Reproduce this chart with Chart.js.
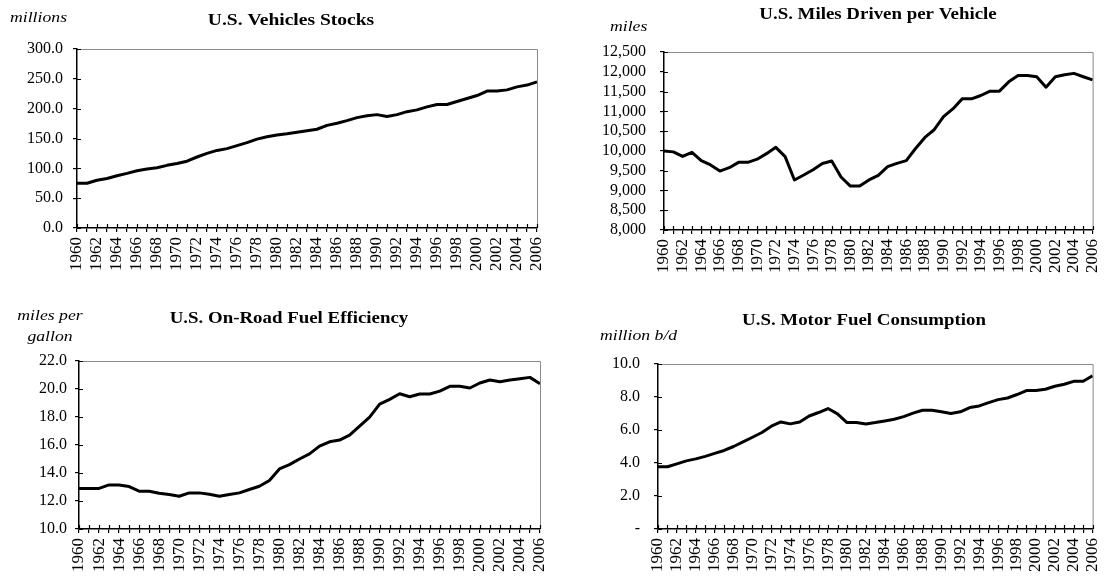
<!DOCTYPE html>
<html>
<head>
<meta charset="utf-8">
<script src="https://cdn.jsdelivr.net/npm/chart.js"></script>
<style>
body { margin: 0; background: #fff; }
#lienzo { position: relative; width: 1118px; height: 579px; }
#lienzo canvas { position: absolute; left: 0; top: 0; }
</style>
</head>
<body>
<div id="lienzo">
  <canvas id="g1" width="1118" height="579"></canvas>
  <canvas id="g2" width="1118" height="579"></canvas>
  <canvas id="g3" width="1118" height="579"></canvas>
  <canvas id="g4" width="1118" height="579"></canvas>
</div>
<script>
const years = ['1960','1961','1962','1963','1964','1965','1966','1967','1968','1969',
  '1970','1971','1972','1973','1974','1975','1976','1977','1978','1979',
  '1980','1981','1982','1983','1984','1985','1986','1987','1988','1989',
  '1990','1991','1992','1993','1994','1995','1996','1997','1998','1999',
  '2000','2001','2002','2003','2004','2005','2006']

// millions of vehicles
const stocks = [75, 75, 80, 83, 87.5, 91.5, 96, 99, 101, 105,
  108, 112, 119, 125, 130, 133, 138, 143, 149, 153,
  156, 158, 160.5, 163, 165.5, 172, 175.5, 180, 185, 188,
  190, 187, 190, 195, 198, 203, 207, 207, 212, 217,
  222, 229.5, 229.5, 231.5, 236.5, 239.5, 245]

// miles per vehicle
const milesPerVehicle = [10000, 9975, 9860, 9965, 9755, 9645, 9490, 9575, 9710, 9710,
  9790, 9930, 10090, 9855, 9265, 9390, 9525, 9680, 9745, 9340,
  9110, 9110, 9265, 9380, 9600, 9685, 9755, 10060, 10340, 10535,
  10865, 11060, 11315, 11315, 11400, 11510, 11510, 11745, 11905, 11905,
  11875, 11610, 11875, 11925, 11960, 11875, 11795]

// miles per gallon
const fuelEfficiency = [12.9, 12.9, 12.9, 13.15, 13.15, 13.03, 12.7, 12.7, 12.55, 12.46,
  12.34, 12.58, 12.58, 12.48, 12.34, 12.46, 12.58, 12.82, 13.05, 13.46,
  14.29, 14.6, 15.0, 15.37, 15.92, 16.23, 16.35, 16.7, 17.35, 17.99,
  18.92, 19.26, 19.66, 19.45, 19.64, 19.64, 19.85, 20.19, 20.19, 20.07,
  20.43, 20.64, 20.52, 20.64, 20.74, 20.83, 20.38]

// million barrels per day
const fuelConsumption = [3.77, 3.77, 3.95, 4.13, 4.25, 4.4, 4.58, 4.76, 5.0, 5.28,
  5.56, 5.85, 6.23, 6.49, 6.37, 6.49, 6.85, 7.06, 7.3, 6.98,
  6.45, 6.45, 6.37, 6.45, 6.55, 6.65, 6.81, 7.02, 7.2, 7.2,
  7.1, 7.0, 7.1, 7.36, 7.46, 7.66, 7.84, 7.94, 8.15, 8.39,
  8.39, 8.47, 8.65, 8.77, 8.95, 8.95, 9.29]

const fuente = '"Liberation Serif", "Times New Roman", serif'

// borde gris arriba y a la derecha, y la mitad interior de cada marca
const marco = {
  id: 'marco',
  afterDraw(chart) {
    const {ctx, chartArea: a, scales: {x, y}} = chart
    ctx.save()
    ctx.strokeStyle = '#8a8a8a'
    ctx.lineWidth = 1
    ctx.beginPath()
    ctx.moveTo(a.left, a.top + 0.5)
    ctx.lineTo(a.right + 0.5, a.top + 0.5)
    ctx.lineTo(a.right + 0.5, a.bottom)
    ctx.stroke()
    ctx.strokeStyle = '#000'
    ctx.lineWidth = 1.2
    ctx.beginPath()
    x.ticks.forEach((t, i) => {
      const px = Math.round(x.getPixelForTick(i)) + 0.5
      ctx.moveTo(px, a.bottom)
      ctx.lineTo(px, a.bottom - 4)
    })
    y.ticks.forEach((t, i) => {
      const py = Math.round(y.getPixelForTick(i)) + 0.5
      ctx.moveTo(a.left, py)
      ctx.lineTo(a.left + 4, py)
    })
    ctx.stroke()
    ctx.restore()
  }
}

// titulos y unidades, algo estirados a lo ancho como en el original
const textos = {
  id: 'textos',
  afterDraw(chart, args, opts) {
    const ctx = chart.ctx
    opts.items.forEach(it => {
      ctx.save()
      ctx.fillStyle = '#000'
      ctx.textBaseline = 'middle'
      ctx.font = it.font
      ctx.textAlign = it.align || 'left'
      ctx.translate(it.x, it.y)
      ctx.scale(it.ancho || 1.18, 1)
      ctx.fillText(it.t, 0, 0)
      ctx.restore()
    })
  }
}

function crearPanel(id, datos, cfg) {
  new Chart(document.getElementById(id), {
    type: 'line',
    data: {
      labels: years,
      datasets: [{
        data: datos,
        borderColor: '#000',
        borderWidth: 3,
        pointRadius: 0,
        tension: 0,
        fill: false,
        borderJoinStyle: 'round'
      }]
    },
    plugins: [marco, textos],
    options: {
      responsive: false,
      animation: false,
      events: [],
      layout: {
        padding: {
          left: cfg.left - cfg.ancho,
          top: cfg.top,
          right: 1118 - cfg.right,
          bottom: 579 - cfg.bottom - 50
        }
      },
      plugins: {
        legend: { display: false },
        tooltip: { enabled: false },
        textos: { items: cfg.textos }
      },
      scales: {
        x: {
          grid: { drawOnChartArea: false, tickLength: 4, color: '#000', lineWidth: 1.2 },
          border: { color: '#000', width: 1.5 },
          ticks: {
            autoSkip: false,
            minRotation: 90,
            maxRotation: 90,
            padding: 5,
            color: '#000',
            font: { family: fuente, size: 17 },
            callback: (v, i) => i % 2 == 0 ? years[i] : ''
          },
          afterFit: s => { s.height = 50 }
        },
        y: {
          min: cfg.min,
          max: cfg.max,
          grid: { drawOnChartArea: false, tickLength: 4, color: '#000', lineWidth: 1.2 },
          border: { color: '#000', width: 1.5 },
          ticks: {
            stepSize: cfg.paso,
            autoSkip: false,
            padding: cfg.pad,
            color: '#000',
            font: { family: fuente, size: 16 },
            callback: cfg.formato
          },
          afterFit: s => { s.width = cfg.ancho }
        }
      }
    }
  })
}

const tituloFont = 'bold 16px ' + fuente
const unidadFont = 'italic 15px ' + fuente

crearPanel('g1', stocks, {
  left: 77, right: 537, top: 49, bottom: 228, ancho: 70, pad: 10,
  min: 0, max: 300, paso: 50,
  formato: v => v.toFixed(1),
  textos: [
    {t: 'U.S. Vehicles Stocks', x: 291, y: 21, font: tituloFont, align: 'center', ancho: 1.22},
    {t: 'millions', x: 10, y: 18, font: unidadFont}
  ]
})

crearPanel('g2', milesPerVehicle, {
  left: 664, right: 1114, top: 52, bottom: 230, ancho: 75, pad: 14,
  min: 8000, max: 12500, paso: 500,
  formato: v => v.toLocaleString('en-US'),
  textos: [
    {t: 'U.S. Miles Driven per Vehicle', x: 878, y: 15, font: tituloFont, align: 'center'},
    {t: 'miles', x: 610, y: 27, font: unidadFont}
  ]
})

crearPanel('g3', fuelEfficiency, {
  left: 79, right: 540, top: 361, bottom: 529, ancho: 70, pad: 8,
  min: 10, max: 22, paso: 2,
  formato: v => v.toFixed(1),
  textos: [
    {t: 'U.S. On-Road Fuel Efficiency', x: 289, y: 319, font: tituloFont, align: 'center'},
    {t: 'miles per', x: 50, y: 316, font: unidadFont, align: 'center'},
    {t: 'gallon', x: 50, y: 337, font: unidadFont, align: 'center'}
  ]
})

crearPanel('g4', fuelConsumption, {
  left: 658, right: 1111, top: 364, bottom: 529, ancho: 75, pad: 14,
  min: 0, max: 10, paso: 2,
  formato: v => v == 0 ? '-' : v.toFixed(1),
  textos: [
    {t: 'U.S. Motor Fuel Consumption', x: 864, y: 321, font: tituloFont, align: 'center'},
    {t: 'million b/d', x: 600, y: 336, font: unidadFont}
  ]
})
</script>
</body>
</html>
